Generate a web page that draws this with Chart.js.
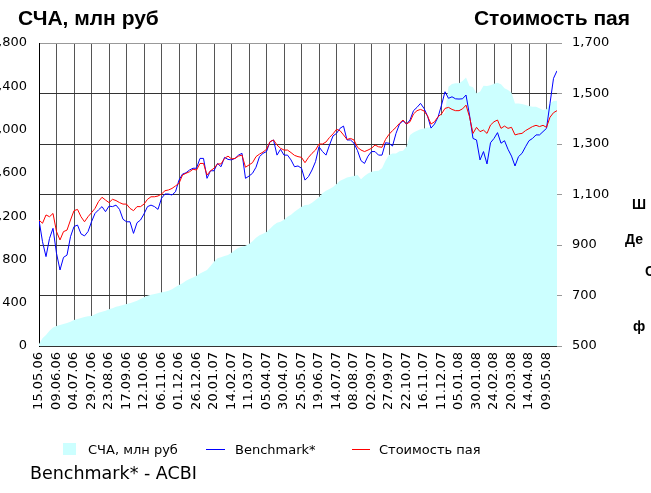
<!DOCTYPE html>
<html>
<head>
<meta charset="utf-8">
<script src="https://cdn.jsdelivr.net/npm/chart.js@4.4.1/dist/chart.umd.min.js"></script>
<style>
  html, body { margin: 0; padding: 0; background: #fff; }
  body { width: 651px; height: 493px; position: relative; overflow: hidden; font-family: "DejaVu Sans", sans-serif; color: #000; }
  #chart { position: absolute; left: 0; top: 0; }
  .title { position: absolute; top: 7px; font: bold 21px/1 "Liberation Sans", Arial, sans-serif; white-space: nowrap; }
  .side { position: absolute; font: bold 14px/1 "Liberation Sans", Arial, sans-serif; white-space: nowrap; }
  .legend-item { position: absolute; top: 442px; font-size: 13px; line-height: 15px; white-space: nowrap; }
  .swatch { position: absolute; }
  #note { position: absolute; left: 30px; top: 463px; font-size: 17.5px; line-height: 20px; white-space: nowrap; }
</style>
</head>
<body>
<canvas id="chart" width="651" height="493"></canvas>
<div class="title" style="left:18px">СЧА, млн руб</div>
<div class="title" style="right:21px">Стоимость пая</div>
<div class="side" style="left:632px; top:197px">Ш</div>
<div class="side" style="left:625px; top:232px">Де</div>
<div class="side" style="left:645px; top:264px">С</div>
<div class="side" style="left:633px; top:319px">ф</div>
<div id="legend"></div>
<div id="note">Benchmark* - ACBI</div>
<script>
// one sample every 5 days, from 15.05.06
const tickLabels = ['15.05.06', '09.06.06', '04.07.06', '29.07.06', '23.08.06', '17.09.06',
    '12.10.06', '06.11.06', '01.12.06', '26.12.06', '20.01.07', '14.02.07', '11.03.07',
    '05.04.07', '30.04.07', '25.05.07', '19.06.07', '14.07.07', '08.08.07', '02.09.07',
    '27.09.07', '22.10.07', '16.11.07', '11.12.07', '05.01.08', '30.01.08', '24.02.08',
    '20.03.08', '14.04.08', '09.05.08'];

// СЧА, млн руб (left axis)
const navValues = [
    18, 71, 102, 142, 172, 185, 194, 203, 213, 225,
    240, 249, 259, 268, 274, 277, 293, 308, 317, 326,
    339, 348, 363, 370, 379, 388, 394, 407, 419, 434,
    450, 465, 474, 480, 487, 496, 502, 511, 524, 545,
    564, 579, 604, 619, 634, 650, 671, 687, 702, 739,
    779, 810, 819, 832, 841, 862, 887, 909, 918, 927,
    942, 967, 1001, 1023, 1038, 1053, 1084, 1115, 1140, 1149,
    1167, 1195, 1214, 1241, 1263, 1287, 1303, 1306, 1324, 1349,
    1374, 1411, 1435, 1451, 1469, 1497, 1528, 1540, 1558, 1565,
    1571, 1580, 1540, 1571, 1595, 1611, 1617, 1620, 1642, 1712,
    1765, 1780, 1780, 1799, 1805, 1842, 1950, 1974, 1990, 2002,
    2011, 2020, 2020, 2051, 2101, 2134, 2156, 2396, 2421, 2427,
    2427, 2449, 2482, 2402, 2390, 2335, 2350, 2405, 2402, 2409,
    2424, 2433, 2418, 2381, 2365, 2341, 2242, 2242, 2236, 2227,
    2218, 2211, 2211, 2196, 2181, 2187, 2242, 2264, 2267
];

// Benchmark* (right axis)
const benchmarkValues = [
    999, 913, 854, 926, 966, 867, 801, 851, 860, 933,
    973, 979, 944, 936, 953, 992, 1025, 1039, 1052, 1032,
    1054, 1052, 1058, 1041, 1002, 992, 992, 946, 988, 999,
    1023, 1052, 1058, 1052, 1041, 1085, 1102, 1102, 1098, 1111,
    1157, 1181, 1186, 1197, 1204, 1204, 1243, 1243, 1164, 1194,
    1194, 1223, 1210, 1247, 1239, 1237, 1243, 1256, 1263, 1164,
    1173, 1184, 1208, 1250, 1263, 1270, 1309, 1316, 1256, 1279,
    1256, 1256, 1237, 1210, 1213, 1204, 1157, 1171, 1197, 1230,
    1289, 1270, 1256, 1296, 1332, 1342, 1362, 1371, 1316, 1316,
    1303, 1274, 1234, 1223, 1252, 1270, 1270, 1256, 1256, 1305,
    1303, 1292, 1342, 1379, 1392, 1379, 1395, 1432, 1445, 1461,
    1441, 1411, 1363, 1379, 1406, 1454, 1507, 1481, 1487, 1479,
    1478, 1479, 1494, 1415, 1322, 1316, 1237, 1270, 1221, 1305,
    1322, 1345, 1303, 1313, 1279, 1252, 1213, 1250, 1263, 1289,
    1313, 1322, 1336, 1336, 1349, 1362, 1461, 1560, 1590
];

// Стоимость пая (right axis)
const unitPriceValues = [
    999, 986, 1019, 1012, 1025, 953, 920, 953, 959, 999,
    1036, 1041, 1012, 992, 1012, 1028, 1045, 1072, 1089, 1078,
    1068, 1081, 1076, 1068, 1062, 1062, 1045, 1036, 1052, 1052,
    1062, 1081, 1091, 1091, 1094, 1102, 1115, 1118, 1124, 1134,
    1144, 1177, 1184, 1190, 1200, 1197, 1223, 1223, 1177, 1194,
    1204, 1221, 1221, 1243, 1252, 1241, 1243, 1252, 1256, 1208,
    1217, 1226, 1250, 1260, 1268, 1279, 1309, 1316, 1296, 1283,
    1276, 1276, 1266, 1255, 1250, 1247, 1226, 1247, 1263, 1276,
    1300, 1300, 1308, 1326, 1340, 1358, 1353, 1336, 1318, 1322,
    1316, 1287, 1276, 1270, 1276, 1283, 1296, 1289, 1287, 1318,
    1338, 1353, 1366, 1382, 1395, 1379, 1388, 1419, 1432, 1437,
    1431, 1411, 1379, 1388, 1408, 1419, 1441, 1445, 1437, 1432,
    1432, 1439, 1454, 1408, 1342, 1366, 1349, 1355, 1342, 1375,
    1388, 1395, 1362, 1371, 1362, 1366, 1336, 1340, 1342, 1353,
    1361, 1369, 1374, 1369, 1374, 1366, 1406, 1424, 1432
];

const SAMPLES_PER_TICK = 5;
const axisFont = { family: 'DejaVu Sans', size: 13 };

function toPoints(values) {
    return values.map((v, i) => ({ x: i, y: v }));
}

function buildLegend(chart) {
    const legend = document.getElementById('legend');
    const spots = [
        { swatch: 'left:63px; top:443px; width:13px; height:12px', text: 88 },
        { swatch: 'left:206px; top:449px; width:19px; height:1px', text: 235 },
        { swatch: 'left:352px; top:449px; width:18px; height:1px', text: 379 }
    ];
    legend.innerHTML = chart.data.datasets.map((ds, i) => {
        const color = ds.fill ? ds.backgroundColor : ds.borderColor;
        return `<div class="swatch" style="${spots[i].swatch}; background:${color}"></div>` +
            `<div class="legend-item" style="left:${spots[i].text}px">${ds.label}</div>`;
    }).join('');
}

const chart = new Chart(document.getElementById('chart'), {
    type: 'line',
    data: {
        datasets: [
            {
                label: 'СЧА, млн руб',
                data: toPoints(navValues),
                yAxisID: 'y',
                backgroundColor: '#ccffff',
                borderWidth: 0,
                fill: 'start',
                order: 3
            },
            {
                label: 'Benchmark*',
                data: toPoints(benchmarkValues),
                yAxisID: 'y1',
                borderColor: '#0000ff',
                borderWidth: 1,
                fill: false,
                order: 2
            },
            {
                label: 'Стоимость пая',
                data: toPoints(unitPriceValues),
                yAxisID: 'y1',
                borderColor: '#ff0000',
                borderWidth: 1,
                fill: false,
                order: 1
            }
        ]
    },
    options: {
        responsive: false,
        animation: false,
        layout: { padding: { top: 43, left: 0, right: 0, bottom: 0 } },
        elements: { point: { radius: 0 }, line: { tension: 0 } },
        plugins: { legend: { display: false }, tooltip: { enabled: false } },
        scales: {
            x: {
                type: 'linear',
                min: 0,
                max: navValues.length - 1,
                afterBuildTicks: scale => {
                    scale.ticks = scale.ticks.filter(t => t.value % SAMPLES_PER_TICK === 0);
                },
                afterFit: scale => { scale.height = 147; },
                grid: { color: '#555', drawTicks: false },
                border: { display: false },
                ticks: {
                    stepSize: SAMPLES_PER_TICK,
                    includeBounds: false,
                    autoSkip: false,
                    maxRotation: 90,
                    minRotation: 90,
                    padding: 6,
                    color: '#000',
                    font: axisFont,
                    callback: v => tickLabels[Math.round(v / SAMPLES_PER_TICK)] || ''
                }
            },
            y: {
                position: 'left',
                min: 0,
                max: 2800,
                afterFit: scale => { scale.width = 39; },
                grid: { drawOnChartArea: false, drawTicks: false },
                border: { display: true, color: '#000' },
                ticks: {
                    stepSize: 400,
                    padding: 12,
                    color: '#000',
                    font: axisFont,
                    callback: v => v.toLocaleString('en-US')
                }
            },
            y1: {
                position: 'right',
                min: 500,
                max: 1700,
                afterFit: scale => { scale.width = 94; },
                grid: {
                    color: c => (c.tick && c.tick.value === 1700 ? '#999' : '#333'),
                    tickLength: 5,
                    tickColor: '#999'
                },
                border: { display: false },
                ticks: {
                    stepSize: 200,
                    padding: 10,
                    color: '#000',
                    font: axisFont,
                    callback: v => v.toLocaleString('en-US')
                }
            }
        }
    }
});

buildLegend(chart);
</script>
</body>
</html>
